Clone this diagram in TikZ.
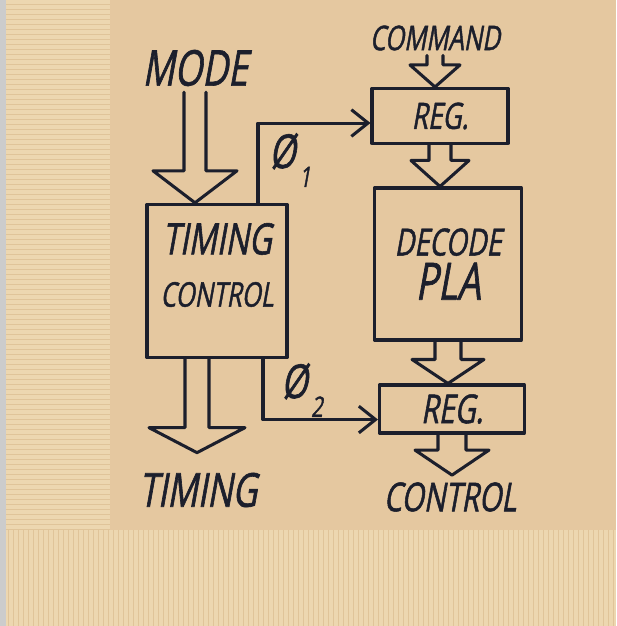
\documentclass[tikz,border=0pt]{standalone}
\usepackage{fontspec}
\newfontfamily\handfont[FakeSlant=0.18,FakeStretch=0.72,FakeBold=1.3]{Open Sans}
\usetikzlibrary{arrows.meta,positioning,calc}

\definecolor{napkin}{HTML}{E5C8A0}
\definecolor{napkinlight}{HTML}{EDD7B0}
\definecolor{napkinline}{HTML}{DBBD90}
\definecolor{ink}{HTML}{1C1F2C}

\tikzset{
  pen/.style={draw=ink, line width=2.6pt, line cap=round, line join=round},
  hand/.style={text=ink, font=\handfont\fontsize{#1}{#1}\selectfont, inner sep=0pt},
  box/.style={pen, inner sep=0pt},
  barb/.style={-{Straight Barb[length=5mm,width=8mm]}},
  fold/.style={draw=napkinline, line width=0.5pt, opacity=0.7}
}

% wide hollow arrow: start, end, shaft half width, head half width, head length
\newcommand{\fatarrow}[5]{%
  \coordinate (tip) at (#1 |- #2);
  \draw[pen] ($(#1)+(-#3,0)$) -- ($(tip)+(-#3,-#5)$) -- ($(tip)+(-#4,-#5)$) -- (tip)
    -- ($(tip)+(#4,-#5)$) -- ($(tip)+(#3,-#5)$) -- ($(#1)+(#3,0)$);
}
\newcommand{\phisub}[1]{\kern3pt\raisebox{-0.4em}{\scalebox{0.6}{#1}}}

\begin{document}
\begin{tikzpicture}[x=0.03cm, y=-0.03cm]
  % napkin
  \fill[napkin] (0,0) rectangle (616,626);
  \useasboundingbox (0,0) rectangle (616,626);
  \fill[napkinlight] (6,0) rectangle (110,626);
  \fill[napkinlight] (110,530) rectangle (616,626);
  \fill[gray!40] (0,0) rectangle (6,626);
  \foreach \yy in {4,9,...,530} \draw[fold] (6,\yy) -- (110,\yy);
  \foreach \xx in {8,13,...,616} \draw[fold] (\xx,530) -- (\xx,626);

  % labels and boxes
  \node[hand=42] (mode) at (195,68) {MODE};
  \node[hand=29] (command) at (435,38) {COMMAND};
  \node[box, minimum width=4.2cm, minimum height=4.6cm] (timing) at (217,281) {};
  \node[hand=37, below=0.6cm of timing.north] (timinglbl) {TIMING};
  \node[hand=29, below=0.8cm of timinglbl] (controllbl) {CONTROL};
  \node[box, hand=31, minimum width=4.08cm, minimum height=1.65cm] (reg1) at (440,116) {REG.};
  \node[box, hand=32, align=center, minimum width=4.41cm, minimum height=4.56cm] (decode) at (448,264)
    {DECODE\\[0.2cm]{\fontsize{44}{44}\selectfont PLA}};
  \node[box, hand=34, minimum width=4.35cm, minimum height=1.44cm] (reg2) at (452,409) {REG.};
  \node[hand=40] (timingout) at (198,490) {TIMING};
  \node[hand=34] (control) at (450,497) {CONTROL};
  \node[hand=40] (phi1) at (290,160) {Ø\phisub{1}};
  \node[hand=40] (phi2) at (302,390) {Ø\phisub{2}};

  % wide arrows
  \coordinate (modeout) at ([yshift=-5pt]mode.south);
  \coordinate (cmdout) at ([yshift=-4pt]command.south);
  \coordinate (timingdown) at ($(timing.south)+(-20,0)$);
  \coordinate (timingin) at ([yshift=17pt]timingout.north);
  \coordinate (controlin) at ([yshift=6pt]control.north);
  \fatarrow{modeout}{timing.north}{11}{42}{32}
  \fatarrow{cmdout}{reg1.north}{8}{25}{22}
  \fatarrow{reg1.south}{decode.north}{11}{29}{26}
  \fatarrow{decode.south}{reg2.north}{13}{36}{24}
  \fatarrow{reg2.south}{controlin}{14}{37}{25}
  \fatarrow{timingdown}{timingin}{12}{48}{25}

  % clock lines
  \coordinate (p1) at ($(timing.north)+(41,0)$);
  \coordinate (p2) at ($(timing.south)+(46,0)$);
  \draw[pen, barb] (p1) |- ([yshift=-6pt]reg1.west);
  \draw[pen, barb] (p2) |- ([yshift=-9pt]reg2.west);
\end{tikzpicture}
\end{document}
